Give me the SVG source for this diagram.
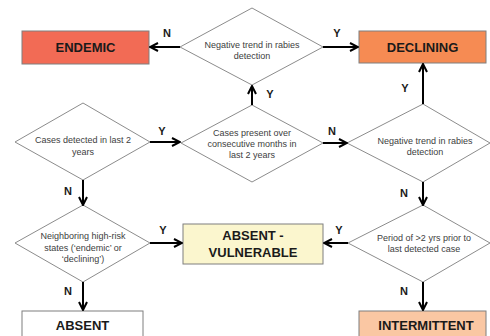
<svg xmlns="http://www.w3.org/2000/svg" width="490" height="336" viewBox="0 0 490 336">
<defs>
<style>
.box{stroke:#7f7f7f;stroke-width:1}
.dia{fill:#fff;stroke:#8c8c8c;stroke-width:1}
.bt{font-family:"Liberation Sans",Arial,sans-serif;font-weight:bold;font-size:13px;fill:#1a1a1a;text-anchor:middle}
.dt{font-family:"Liberation Sans",Arial,sans-serif;font-size:9px;fill:#404040;text-anchor:middle}
.lb{font-family:"Liberation Sans",Arial,sans-serif;font-weight:bold;font-size:11px;fill:#1a1a1a;text-anchor:middle}
.ar{stroke:#000;stroke-width:2;fill:none;marker-end:url(#ah)}
</style>
<marker id="ah" viewBox="0 0 10 10" refX="9" refY="5" markerWidth="5" markerHeight="5" markerUnits="strokeWidth" orient="auto">
<path d="M1,1 L9,5 L1,9" fill="none" stroke="#000" stroke-width="2"/>
</marker>
</defs>
<rect width="490" height="336" fill="#fff"/>
<g id="endemic"><rect class="box" x="22" y="31" width="127" height="33" fill="#f26b55"/><text class="bt" x="85.5" y="52">ENDEMIC</text></g>
<g id="declining"><rect class="box" x="359" y="31" width="127" height="32" fill="#f68b53"/><text class="bt" x="422.5" y="52">DECLINING</text></g>
<g id="vulnerable"><rect class="box" x="183" y="224" width="140" height="40" fill="#fbf6ce"/><text class="bt" x="253" y="240">ABSENT -</text><text class="bt" x="253" y="257">VULNERABLE</text></g>
<g id="absent"><rect class="box" x="22" y="311" width="121" height="30" fill="#fff"/><text class="bt" x="82.5" y="330">ABSENT</text></g>
<g id="intermittent"><rect class="box" x="359" y="311" width="127" height="30" fill="#fac7a3"/><text class="bt" x="426" y="330">INTERMITTENT</text></g>
<g id="d-trend-top"><polygon class="dia" points="180,47 252,8 323,47 252,85"/><text class="dt" x="252" y="48">Negative trend in rabies</text><text class="dt" x="252" y="59">detection</text></g>
<g id="d-detected"><polygon class="dia" points="15,142 83,103 150,142 83,180"/><text class="dt" x="83" y="143">Cases detected in last 2</text><text class="dt" x="83" y="155">years</text></g>
<g id="d-consecutive"><polygon class="dia" points="181,143 252,105 323,143 252,182"/><text class="dt" x="252" y="136">Cases present over</text><text class="dt" x="252" y="147">consecutive months  in</text><text class="dt" x="252" y="158">last 2 years</text></g>
<g id="d-trend-right"><polygon class="dia" points="347,143 423,104 490,143 423,182"/><text class="dt" x="425" y="144">Negative trend in rabies</text><text class="dt" x="425" y="155">detection</text></g>
<g id="d-neighbor"><polygon class="dia" points="15,243 83,205 150,243 83,282"/><text class="dt" x="83" y="239">Neighboring high-risk</text><text class="dt" x="83" y="251">states (‘endemic’ or</text><text class="dt" x="83" y="262">‘declining’)</text></g>
<g id="d-period"><polygon class="dia" points="348,243 423,205 490,243 423,282"/><text class="dt" x="424" y="241">Period of &gt;2 yrs prior to</text><text class="dt" x="424" y="252">last detected case</text></g>
<g id="connectors">
<line class="ar" x1="180" y1="47" x2="150" y2="47"/>
<line class="ar" x1="323" y1="47" x2="358" y2="47"/>
<line class="ar" x1="252" y1="105" x2="252" y2="86"/>
<line class="ar" x1="150" y1="142" x2="180" y2="142"/>
<line class="ar" x1="323" y1="143" x2="347" y2="143"/>
<line class="ar" x1="423" y1="104" x2="423" y2="64"/>
<line class="ar" x1="83" y1="180" x2="83" y2="205"/>
<line class="ar" x1="423" y1="182" x2="423" y2="205"/>
<line class="ar" x1="150" y1="243" x2="182" y2="243"/>
<line class="ar" x1="348" y1="243" x2="324" y2="243"/>
<line class="ar" x1="83" y1="282" x2="83" y2="310"/>
<line class="ar" x1="423" y1="282" x2="423" y2="310"/>
<text class="lb" x="167" y="37">N</text>
<text class="lb" x="337" y="37">Y</text>
<text class="lb" x="270" y="98">Y</text>
<text class="lb" x="405" y="92">Y</text>
<text class="lb" x="162" y="135">Y</text>
<text class="lb" x="332" y="135">N</text>
<text class="lb" x="68" y="195">N</text>
<text class="lb" x="404" y="197">N</text>
<text class="lb" x="163" y="234">Y</text>
<text class="lb" x="68" y="295">N</text>
<text class="lb" x="339" y="234">Y</text>
<text class="lb" x="404" y="295">N</text>
</g>
</svg>
